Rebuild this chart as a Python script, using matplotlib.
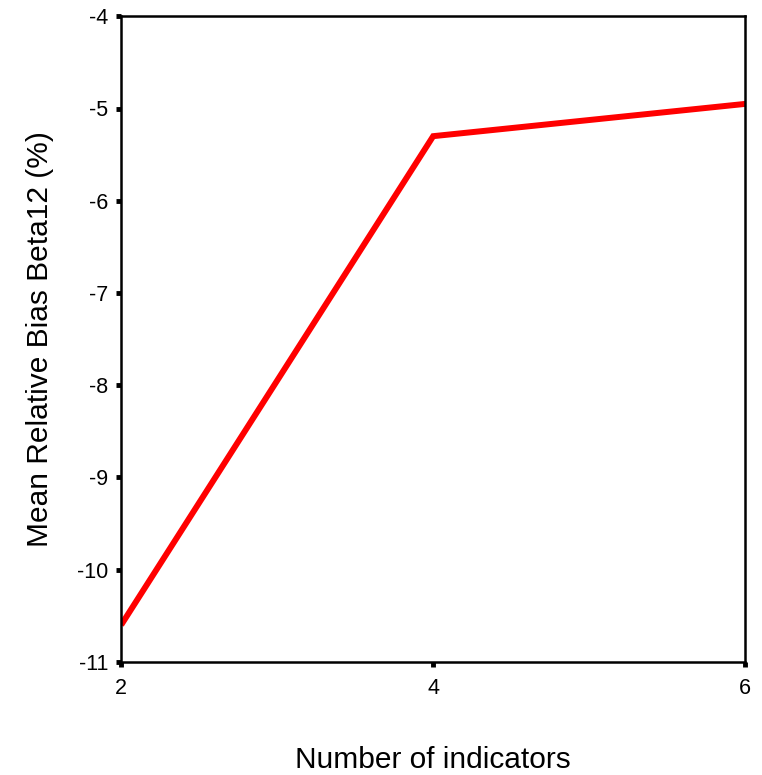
import matplotlib
matplotlib.use('Agg')
import matplotlib.pyplot as plt

plt.rcParams['font.family'] = ['Liberation Sans', 'DejaVu Sans']
plt.rcParams['axes.unicode_minus'] = False

indicators = [2, 4, 6]
bias = [-10.60, -5.30, -4.95]
y_ticks = [-11, -10, -9, -8, -7, -6, -5, -4]

fig = plt.figure(figsize=(7.62, 7.75), dpi=100)
ax = fig.add_axes([0.159, 0.146, 0.819, 0.833])

ax.plot(indicators, bias, color='#ff0000', linewidth=4.3, solid_capstyle='butt', solid_joinstyle='miter')

ax.set_xlim(2, 6)
ax.set_ylim(-11, -4)
ax.set_xticks(indicators)
ax.set_yticks(y_ticks)
ax.tick_params(axis='both', direction='out', length=3.5, width=3.5, labelsize=15.5, color='black')
ax.tick_params(axis='y', pad=6)
ax.tick_params(axis='x', pad=8)
for s in ax.spines.values():
    s.set_linewidth(1.8)

ax.set_xlabel('Number of indicators', fontsize=21.5, labelpad=34)
ax.set_ylabel('Mean Relative Bias Beta12 (%)', fontsize=21.5, labelpad=16)

fig.savefig('out.png', dpi=100)
